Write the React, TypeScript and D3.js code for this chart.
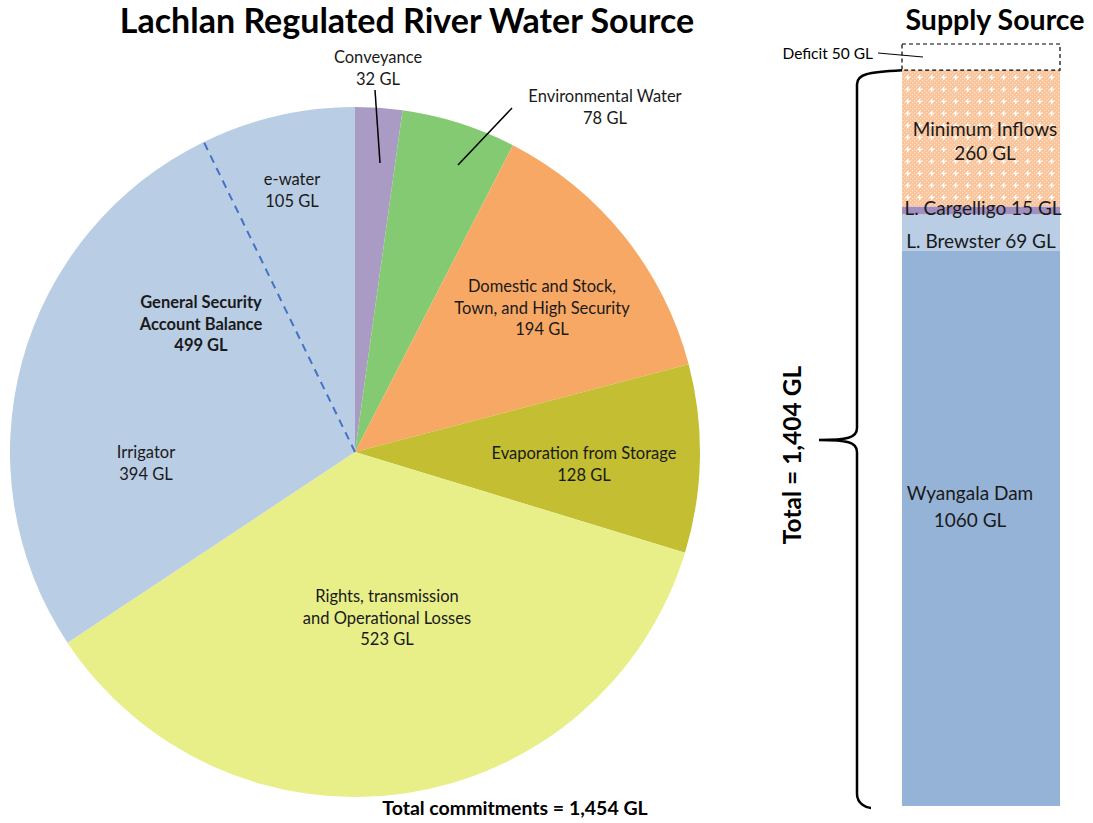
import * as d3 from "d3";
import React from "react";

// pie: clockwise from 12 o'clock
const pieNames = ["Conveyance", "Environmental Water", "Domestic", "Evaporation", "Rights", "Irrigator", "e-water"];
const pieValues = [32, 78, 194, 128, 523, 394, 105];
const pieColors = ["#A99BC4", "#84CA72", "#F7A864", "#C3BE32", "#E8EF88", "#B9CDE5", "#B9CDE5"];

// supply stack, bottom to top
const supplyNames = ["Wyangala Dam", "L. Brewster", "L. Cargelligo", "Minimum Inflows", "Deficit"];
const supplyValues = [1060, 69, 15, 260, 50];

const W = 1093;
const H = 823;
const font = "Lato, 'Open Sans', sans-serif";

const App = (): JSX.Element => {
	const cx = 355, cy = 452, r = 345;
	const pie = d3.pie<number>().sort(null).startAngle(0).endAngle(2 * Math.PI);
	const arcs = pie(pieValues);
	const arc = d3.arc<d3.PieArcDatum<number>>().innerRadius(0).outerRadius(r);

	// e-water divider
	const divA = arcs[6].startAngle;
	const divX = r * Math.sin(divA), divY = -r * Math.cos(divA);

	// supply bar
	const total = d3.sum(supplyValues);
	const y = d3.scaleLinear().domain([0, total]).range([806, 44]);
	const bx0 = 902, bx1 = 1060;
	const stack: { name: string; v0: number; v1: number }[] = [];
	let acc = 0;
	supplyNames.forEach((n, i) => {
		stack.push({ name: n, v0: acc, v1: acc + supplyValues[i] });
		acc += supplyValues[i];
	});
	const supplyTotal = d3.sum(supplyValues.slice(0, 4));
	const barFill = ["#95B3D7", "#B9CDE5", "#A18FBF", "url(#orangeHatch)", "none"];

	const yTop = y(supplyTotal);
	const yBot = y(0) + 2;
	const yMid = 440;
	const bxR = 902, bxL = 857;
	const brace = `M${bxR},${yTop} C${bxL + 10},${yTop + 2} ${bxL},${yTop + 4} ${bxL},${yTop + 14}
		L${bxL},${yMid - 12} C${bxL},${yMid - 2} ${bxL - 10},${yMid} ${bxL - 38},${yMid}
		M${bxL - 38},${yMid} C${bxL - 10},${yMid} ${bxL},${yMid + 2} ${bxL},${yMid + 12}
		L${bxL},${yBot - 14} C${bxL},${yBot - 4} ${bxL + 10},${yBot} ${bxL + 14},${yBot}`;

	const lbl = (x: number, yy: number, lines: string[], opts: { bold?: boolean; size?: number; lh?: number } = {}) => (
		<text x={x} y={yy} textAnchor="middle" fontFamily={font} fontSize={opts.size ?? 16.5}
			fontWeight={opts.bold ? "bold" : "normal"} fill="#1a1a1a">
			{lines.map((l, i) => (
				<tspan key={i} x={x} dy={i === 0 ? 0 : opts.lh ?? 21.5}>{l}</tspan>
			))}
		</text>
	);

	return (
		<svg width={W} height={H} style={{ position: "absolute", left: 0, top: 0 }}>
			<defs>
				<pattern id="orangeHatch" width={12} height={12} patternUnits="userSpaceOnUse" x={bx0} y={0}>
					<rect width={12} height={12} fill="#FAC39A" />
					{d3.range(0, 12, 2).map((i) =>
						d3.range(0, 12, 2).map((j) =>
							(i + j) % 4 === 0 ? <rect key={`${i}-${j}`} x={i} y={j} width={1.2} height={1.2} fill="#FDE6D3" /> : null
						)
					)}
					<rect x={5} y={3} width={1.3} height={5} fill="#fff" />
					<rect x={3.2} y={4.8} width={5} height={1.3} fill="#fff" />
				</pattern>
			</defs>
			<rect width={W} height={H} fill="#fff" />

			<text x={407} y={33} textAnchor="middle" fontFamily={font} fontWeight="bold" fontSize={34} fill="#000">
				Lachlan Regulated River Water Source
			</text>
			<text x={995} y={30} textAnchor="middle" fontFamily={font} fontWeight="bold" fontSize={28.5} fill="#000">
				Supply Source
			</text>

			<g transform={`translate(${cx},${cy})`}>
				{arcs.map((a, i) => (
					<path key={pieNames[i]} d={arc(a) ?? ""} fill={pieColors[i]} />
				))}
				<line x1={0} y1={0} x2={divX} y2={divY} stroke="#4472C4" strokeWidth={2} strokeDasharray="8,6" />
			</g>

			{/* leader lines */}
			<line x1={375} y1={90} x2={380} y2={163} stroke="#000" strokeWidth={1.5} />
			<line x1={512} y1={108} x2={458} y2={165} stroke="#000" strokeWidth={1.5} />

			{lbl(378, 63, ["Conveyance", "32 GL"])}
			{lbl(605, 102, ["Environmental Water", "78 GL"])}
			{lbl(542, 292, ["Domestic and Stock,", "Town, and High Security", "194 GL"])}
			{lbl(584, 459, ["Evaporation from Storage", "128 GL"])}
			{lbl(387, 602, ["Rights, transmission", "and Operational Losses", "523 GL"])}
			{lbl(146, 458, ["Irrigator", "394 GL"])}
			{lbl(292, 185, ["e-water", "105 GL"])}
			{lbl(201, 308, ["General Security", "Account Balance", "499 GL"], { bold: true })}

			<text x={515} y={815} textAnchor="middle" fontFamily={font} fontWeight="bold" fontSize={19.5} fill="#000">
				Total commitments =  1,454 GL
			</text>

			{/* supply bar */}
			{stack.map((s, i) => (
				<rect key={s.name} x={bx0} width={bx1 - bx0} y={y(s.v1)} height={y(s.v0) - y(s.v1)}
					fill={barFill[i]} stroke={i === 4 ? "#000" : "none"} strokeDasharray={i === 4 ? "4,3" : undefined} strokeWidth={1.2} />
			))}

			{lbl(985, 136, ["Minimum Inflows", "260 GL"], { size: 19, lh: 24 })}
			{lbl(983, 215, ["L. Cargelligo 15 GL"], { size: 19 })}
			{lbl(981, 248, ["L. Brewster  69 GL"], { size: 19 })}
			{lbl(970, 500, ["Wyangala Dam", "1060 GL"], { size: 19, lh: 27 })}

			<text x={873} y={59} textAnchor="end" fontFamily={font} fontSize={15.5} fill="#000">Deficit  50 GL</text>
			<line x1={878} y1={53} x2={923} y2={57} stroke="#000" strokeWidth={1} />

			<path d={brace} fill="none" stroke="#000" strokeWidth={2.5} />
			<text transform={`translate(801,455) rotate(-90)`} textAnchor="middle" fontFamily={font} fontWeight="bold" fontSize={24.5} fill="#000">
				Total = 1,404 GL
			</text>
		</svg>
	);
};

export default App;
